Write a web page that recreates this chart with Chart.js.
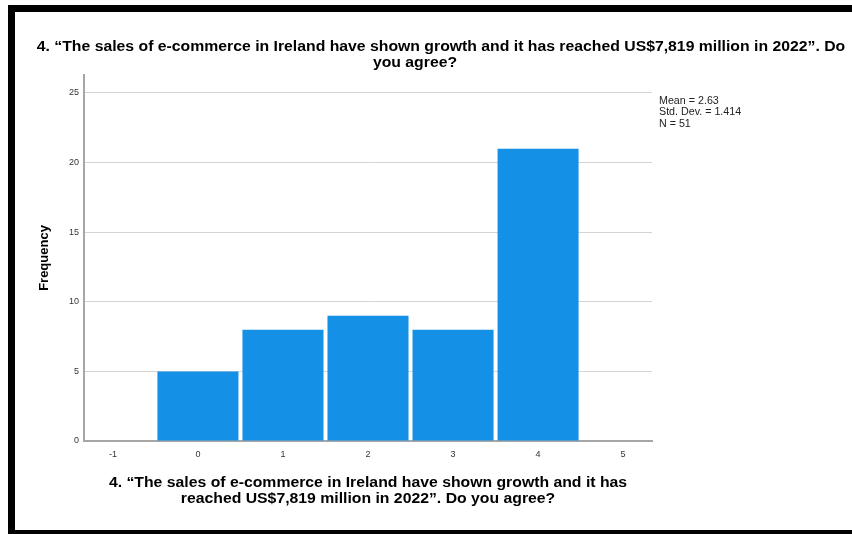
<!DOCTYPE html>
<html>
<head>
    <title>E-commerce growth in Ireland - histogram</title>
    <script src="https://cdn.jsdelivr.net/npm/chart.js"></script>
    <style>
        html, body {
            margin: 0;
            padding: 0;
            background-color: #ffffff;
            overflow: hidden;
            width: 852px;
            height: 534px;
        }
        .frame {
            position: absolute;
            left: 8px;
            top: 5px;
            width: 1000px;
            height: 518px;
            border-left: 7px solid #000;
            border-top: 7px solid #000;
            border-bottom: 7px solid #000;
            background-color: #fff;
        }
        .chart-container {
            position: absolute;
            left: 0;
            top: 0;
            width: 852px;
            height: 534px;
        }
    </style>
</head>
<body>
    <div class="frame"></div>
    <div class="chart-container">
        <canvas id="histChart"></canvas>
    </div>

    <script>
        // answers (bin centres) and how many people gave each
        const answers = [0, 1, 2, 3, 4];
        const frequencies = [5, 8, 9, 8, 21];
        const xTicks = [-1, 0, 1, 2, 3, 4, 5];
        const yTicks = [0, 5, 10, 15, 20, 25];
        const statLines = ['Mean = 2.63', 'Std. Dev. = 1.414', 'N = 51'];
        const titleLines = [
            '4. \u201CThe sales of e-commerce in Ireland have shown growth and it has reached US$7,819 million in 2022\u201D. Do',
            'you agree?'
        ];
        const axisTitleLines = [
            '4. \u201CThe sales of e-commerce in Ireland have shown growth and it has',
            'reached US$7,819 million in 2022\u201D. Do you agree?'
        ];

        const fontFamily = '"Liberation Sans", Arial, sans-serif';
        // the original output is a bit wider than Arial, so stretch the text
        const stretch = 1.127;

        function wideText(ctx, text, cx, cy, sx) {
            ctx.save();
            ctx.translate(cx, cy);
            ctx.scale(sx, 1);
            ctx.fillText(text, 0, 0);
            ctx.restore();
        }

        // titles and the stats box, drawn by hand
        const extraText = {
            id: 'extraText',
            afterDraw(chart) {
                const ctx = chart.ctx;
                const area = chart.chartArea;
                ctx.save();
                ctx.fillStyle = '#000';
                ctx.textBaseline = 'middle';
                ctx.textAlign = 'center';
                ctx.font = 'bold 14px ' + fontFamily;
                wideText(ctx, titleLines[0], 441, 47, stretch);
                wideText(ctx, titleLines[1], 415, 63, stretch);

                const mid = (area.left + area.right) / 2;
                wideText(ctx, axisTitleLines[0], mid, 483, stretch);
                wideText(ctx, axisTitleLines[1], mid, 499, stretch);

                ctx.textAlign = 'left';
                ctx.fillStyle = '#222';
                ctx.font = '10px ' + fontFamily;
                statLines.forEach((line, i) => {
                    wideText(ctx, line, 659, 101 + i * 11.5, 1.07);
                });
                ctx.restore();
            }
        };

        const ctx = document.getElementById('histChart').getContext('2d');
        new Chart(ctx, {
            type: 'bar',
            data: {
                datasets: [{
                    label: 'Frequency',
                    data: answers.map((a, i) => ({ x: a, y: frequencies[i] })),
                    backgroundColor: '#1490e6',
                    borderWidth: 0,
                    barPercentage: 0.953,
                    categoryPercentage: 1.0
                }]
            },
            options: {
                responsive: true,
                maintainAspectRatio: false,
                animation: false,
                layout: {
                    padding: { left: 15, right: 200, top: 75, bottom: 0 }
                },
                plugins: {
                    legend: { display: false },
                    tooltip: { enabled: false },
                    title: { display: false }
                },
                scales: {
                    x: {
                        type: 'linear',
                        offset: false,
                        min: -1.34,
                        max: 5.34,
                        afterBuildTicks: (scale) => {
                            scale.ticks = xTicks.map(v => ({ value: v }));
                        },
                        afterFit: (scale) => {
                            scale.height = 93;
                        },
                        grid: {
                            display: false,
                            drawTicks: false
                        },
                        border: {
                            display: true,
                            color: '#a6a6a6',
                            width: 2
                        },
                        ticks: {
                            padding: 8,
                            color: '#333',
                            font: { family: fontFamily, size: 9 }
                        }
                    },
                    y: {
                        min: 0,
                        max: 26.29,
                        afterBuildTicks: (scale) => {
                            scale.ticks = yTicks.map(v => ({ value: v }));
                        },
                        afterFit: (scale) => {
                            scale.width = 69;
                        },
                        grid: {
                            color: '#d4d4d4',
                            lineWidth: 1,
                            drawTicks: false
                        },
                        border: {
                            display: true,
                            color: '#a6a6a6',
                            width: 2
                        },
                        ticks: {
                            padding: 5,
                            color: '#333',
                            font: { family: fontFamily, size: 9 }
                        },
                        title: {
                            display: true,
                            text: 'Frequency',
                            color: '#000',
                            font: { family: fontFamily, size: 13, weight: 'bold' },
                            padding: { top: 22, bottom: 0 }
                        }
                    }
                }
            },
            plugins: [extraText]
        });
    </script>
</body>
</html>
